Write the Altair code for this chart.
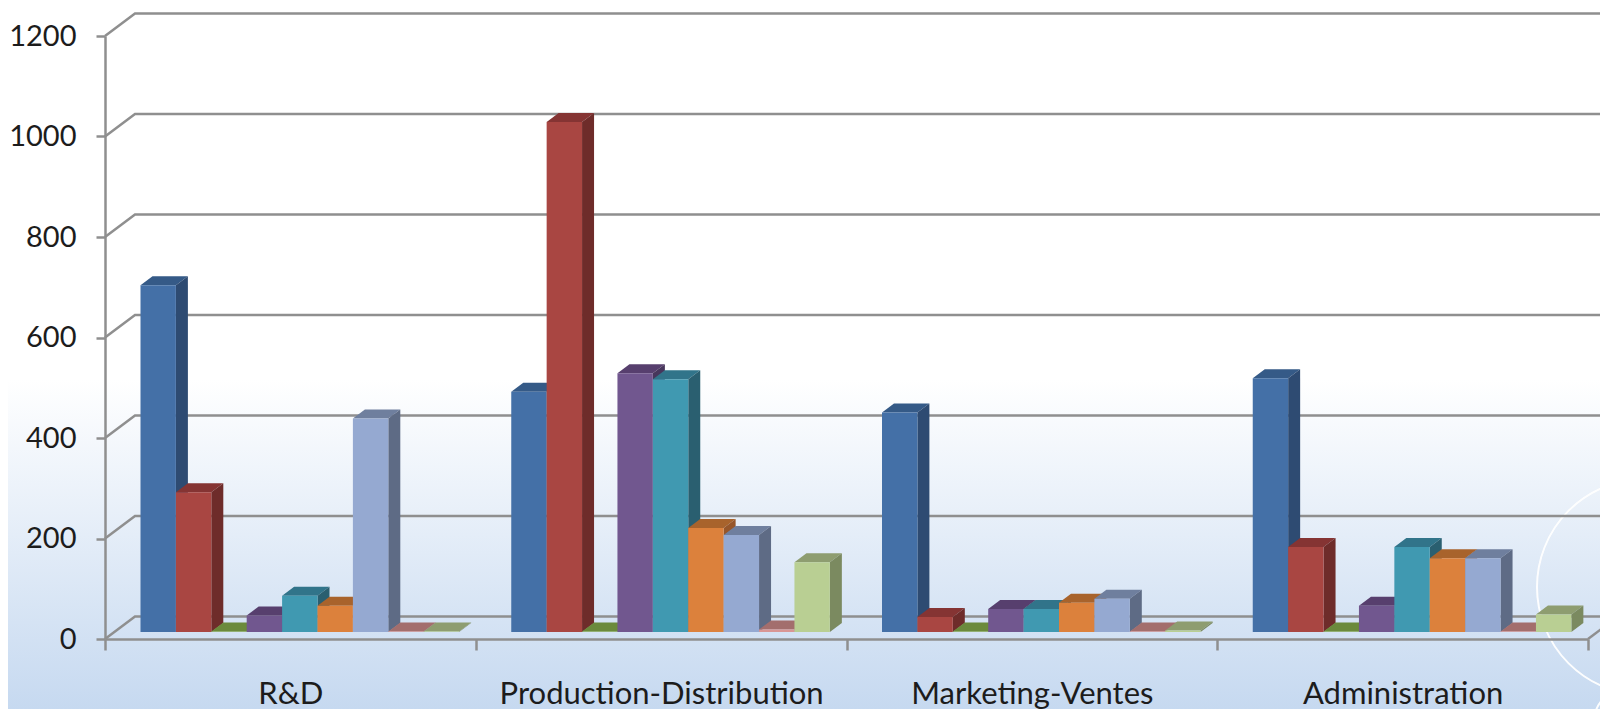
import altair as alt
import pandas as pd

categories = ["R&D", "Production-Distribution", "Marketing-Ventes", "Administration"]
y_ticks = [0, 200, 400, 600, 800, 1000, 1200]

# one list per series, four values each
s1 = [690, 478, 437, 505]
s2 = [278, 1015, 30, 169]
s3 = [1, 1, 1, 1]
s4 = [33, 515, 46, 52]
s5 = [72, 503, 46, 169]
s6 = [52, 207, 58, 147]
s7 = [425, 193, 66, 147]
s8 = [1, 5, 1, 1]
s9 = [1, 139, 3, 35]

series = [
    (s1, "#4470a7", "#355a87", "#2e4b72"),
    (s2, "#a94642", "#853433", "#6e2c2a"),
    (s3, "#86a84e", "#6b8a3c", "#5a7432"),
    (s4, "#71578f", "#573f6e", "#47365c"),
    (s5, "#4099b1", "#31748a", "#2a5f70"),
    (s6, "#dc813c", "#a8632c", "#96562a"),
    (s7, "#95a9d1", "#6f7f9e", "#5e6b85"),
    (s8, "#d99694", "#a36e6d", "#8f5f5e"),
    (s9, "#b9cf93", "#8e9d70", "#7b8a60"),
]

STEP = 370.75
PLOT_W, PLOT_H = 1495, 603
PX_PER_UNIT = PLOT_H / 1200
BAR = 35.4 / STEP
START = 35.5 / STEP
DX = 12 / STEP
DY = 9 / PX_PER_UNIT
BASE = 7 / PX_PER_UNIT
WALL_DX = 30 / STEP
WALL_DY = 22.5 / PX_PER_UNIT
RIGHT = PLOT_W / STEP
GRID = "#8f8f8f"
FONT = "Lato"

xs = alt.Scale(domain=[0, RIGHT], range=[0, PLOT_W], nice=False, zero=False)
ys = alt.Scale(domain=[0, 1200], range=[PLOT_H, 0], nice=False, zero=False)
y_axis = alt.Axis(
    title=None, values=y_ticks, format="d", labelFont=FONT, labelFontSize=29, labelColor="#1c1c1c",
    labelPadding=20, tickSize=9, tickColor=GRID, tickWidth=2.5,
    domainColor=GRID, domainWidth=2.5, grid=False, zindex=1,
)


def qx(field):
    return alt.X(field, type="quantitative", scale=xs, axis=None)


def qy(field):
    return alt.Y(field, type="quantitative", scale=ys, axis=y_axis, stack=None)


# background gradient
bg = alt.Chart(pd.DataFrame({"a": [0]})).mark_rect(
    fill=alt.Gradient(
        gradient="linear", x1=0, x2=0, y1=0, y2=1,
        stops=[
            alt.GradientStop(offset=0, color="#ffffff"),
            alt.GradientStop(offset=0.53, color="#ffffff"),
            alt.GradientStop(offset=1, color="#c6d9f0"),
        ],
    )
).encode(x=alt.value(-97), x2=alt.value(PLOT_W), y=alt.value(-28), y2=alt.value(PLOT_H + 70))

# decorative white rings at the lower right
ring1 = alt.Chart(pd.DataFrame({"a": [0]})).mark_point(
    shape="circle", filled=False, stroke="#ffffff", strokeWidth=2, size=(2 * 108) ** 2, opacity=0.95
).encode(x=alt.value(1645 - 105), y=alt.value(587 - 36))
ring2 = alt.Chart(pd.DataFrame({"a": [0]})).mark_point(
    shape="circle", filled=False, stroke="#ffffff", strokeWidth=2, size=(2 * 34) ** 2, opacity=0.95
).encode(x=alt.value(1628 - 105), y=alt.value(722 - 36))

# axes
axis_layer = alt.Chart(pd.DataFrame({"cat": categories, "v": [0, 0, 0, 0]})).mark_point(opacity=0).encode(
    x=alt.X(
        "cat:N",
        sort=categories,
        scale=alt.Scale(domain=categories, range=[0, 4 * STEP], paddingInner=0, paddingOuter=0, round=False),
        axis=alt.Axis(
            title=None, tickBand="extent", labelAngle=0, labelFont=FONT, labelFontSize=31, labelLimit=600,
            labelColor="#1c1c1c", labelPadding=29, tickSize=11, tickColor=GRID, tickWidth=2.5,
            domainColor=GRID, domainWidth=2.5, grid=False, zindex=1,
        ),
    ),
    y=alt.Y("v:Q", scale=ys, axis=y_axis),
)

# gridlines on the back wall and the side wall
g_rows = []
for t in y_ticks:
    g_rows += [
        {"t": t, "x": 0, "y": t, "o": 0},
        {"t": t, "x": WALL_DX, "y": t + WALL_DY, "o": 1},
        {"t": t, "x": RIGHT, "y": t + WALL_DY, "o": 2},
    ]
grid = alt.Chart(pd.DataFrame(g_rows)).mark_line(color=GRID, strokeWidth=2.5).encode(
    x=qx("x"), y=qy("y"), detail="t:N", order="o:Q"
)
end_wall = alt.Chart(pd.DataFrame({"x": [4, 4 + WALL_DX], "y": [0, WALL_DY]})).mark_line(
    color=GRID, strokeWidth=2.5
).encode(x=qx("x"), y=qy("y"))

# bars: top face, side face, then front face, series by series
bars = []
for i, (vals, front, top, side) in enumerate(series):
    t_rows, s_rows, f_rows = [], [], []
    for c, v in enumerate(vals):
        x0 = c + START + i * BAR
        x1 = x0 + BAR
        h = v + BASE
        t_rows += [
            {"c": c, "y": h, "x": x0, "x2": x1},
            {"c": c, "y": h + DY, "x": x0 + DX, "x2": x1 + DX},
        ]
        s_rows += [
            {"c": c, "x": x1, "y": h, "y2": BASE},
            {"c": c, "x": x1 + DX, "y": h + DY, "y2": BASE + DY},
        ]
        f_rows.append({"x": x0, "x2": x1, "y": h, "y2": BASE})
    bars.append(
        alt.Chart(pd.DataFrame(t_rows)).mark_area(orient="horizontal", color=top).encode(
            y=qy("y"), x=qx("x"), x2="x2:Q", detail="c:N"
        )
    )
    bars.append(
        alt.Chart(pd.DataFrame(s_rows)).mark_area(color=side).encode(
            x=qx("x"), y=qy("y"), y2="y2:Q", detail="c:N"
        )
    )
    bars.append(
        alt.Chart(pd.DataFrame(f_rows)).mark_bar(color=front).encode(
            x=qx("x"), x2="x2:Q", y=qy("y"), y2="y2:Q"
        )
    )

chart = (
    alt.layer(bg, ring1, ring2, grid, end_wall, axis_layer, *bars)
    .resolve_scale(x="independent")
    .properties(
        width=PLOT_W,
        height=PLOT_H,
        padding={"left": 97, "top": 28, "right": 0, "bottom": 70},
        autosize=alt.AutoSizeParams(type="none"),
        background="#ffffff",
    )
    .configure_view(stroke=None)
)

chart.save("out.html", embed_options={"renderer": "svg", "actions": False})
